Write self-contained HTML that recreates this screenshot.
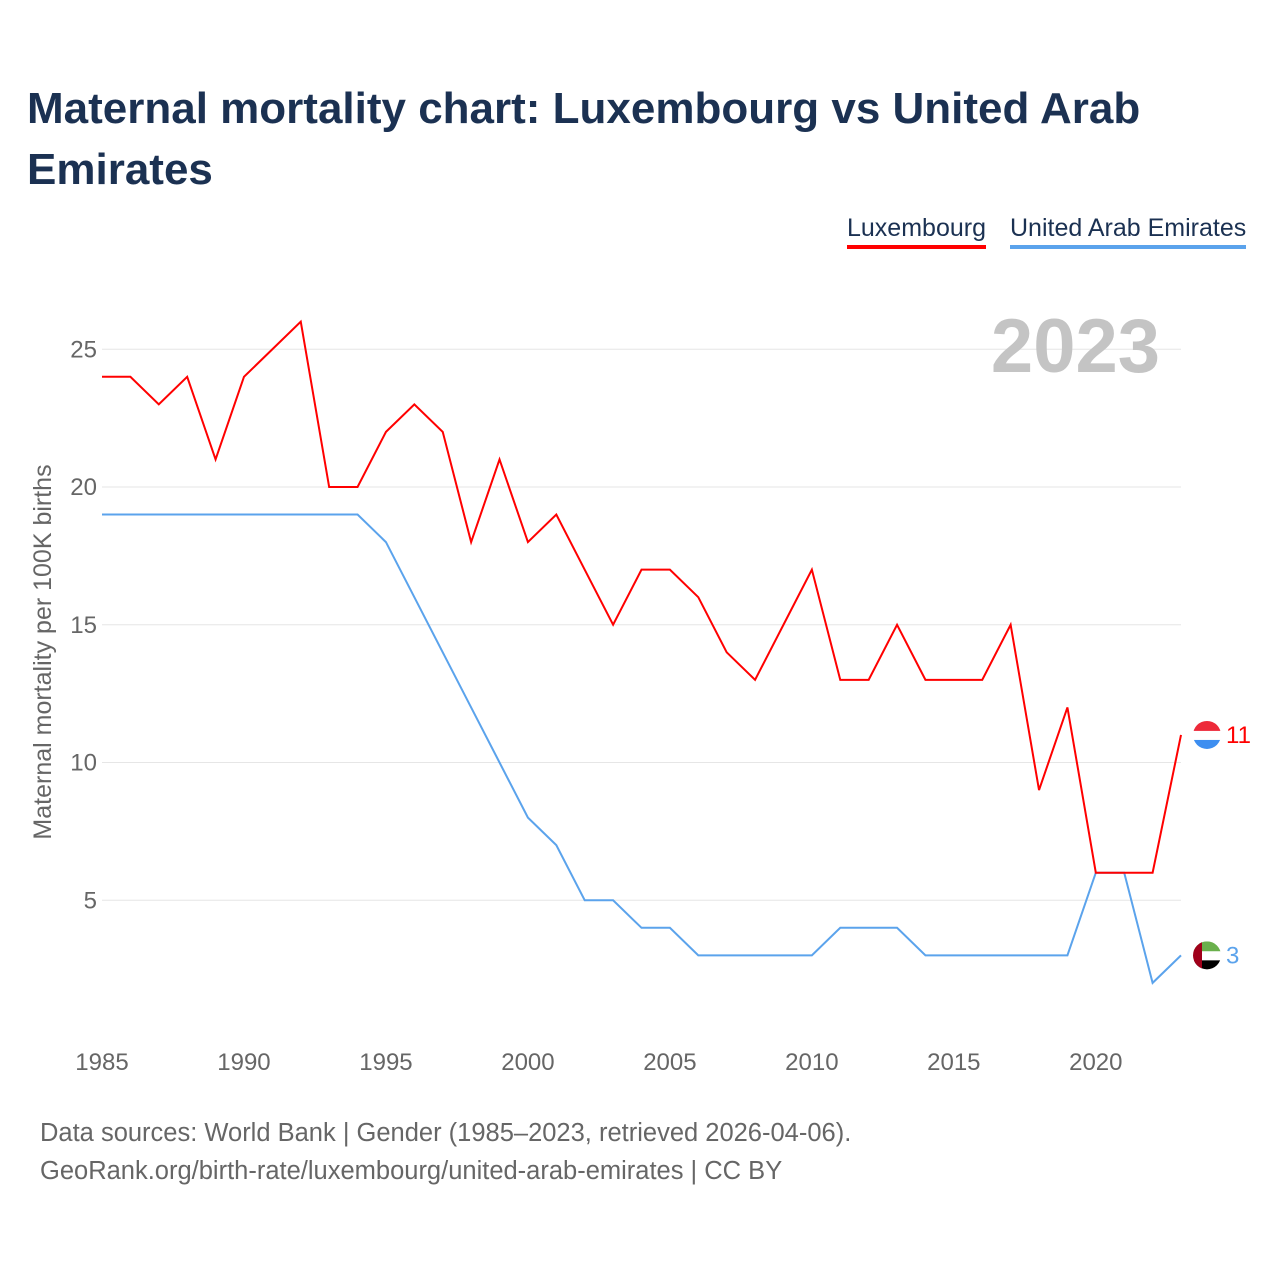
<!DOCTYPE html>
<html><head><meta charset="utf-8"><style>
body{margin:0;background:#fff;font-family:"Liberation Sans",sans-serif;}
#wrap{position:relative;width:1280px;height:1280px;overflow:hidden;}
h1{position:absolute;left:27px;top:78px;margin:0;font-size:44px;line-height:61px;color:#1b3152;font-weight:bold;width:1220px;}
.leg{position:absolute;top:214px;font-size:25px;color:#1b3152;padding-bottom:2px;}
.foot{position:absolute;left:40px;font-size:25.5px;color:#666;}
</style></head><body>
<div id="wrap">
<h1>Maternal mortality chart: Luxembourg vs United Arab Emirates</h1>
<div class="leg" style="left:847px;border-bottom:4px solid #ff0000">Luxembourg</div>
<div class="leg" style="left:1010px;border-bottom:4px solid #5ba3ec">United Arab Emirates</div>
<svg id="svg" width="1280" height="1280" style="position:absolute;left:0;top:0"></svg>
<div class="foot" style="top:1119px">Data sources: World Bank | Gender (1985–2023, retrieved 2026-04-06).</div>
<div class="foot" style="top:1157px">GeoRank.org/birth-rate/luxembourg/united-arab-emirates | CC BY</div>
</div>
<script>
const years=[];for(let y=1985;y<=2023;y++)years.push(y);
const luxValues=[24,24,23,24,21,24,25,26,20,20,22,23,22,18,21,18,19,17,15,17,17,16,14,13,15,17,13,13,15,13,13,13,15,9,12,6,6,6,11];
const uaeValues=[19,19,19,19,19,19,19,19,19,19,18,16,14,12,10,8,7,5,5,4,4,3,3,3,3,3,4,4,4,3,3,3,3,3,3,6,6,2,3];
const yTicks=[5,10,15,20,25];
const xTicks=[1985,1990,1995,2000,2005,2010,2015,2020];
const x=v=>102+(v-1985)*(1181-102)/38;
const y=v=>1038-v*27.55;
const svg=document.getElementById('svg');const NS='http://www.w3.org/2000/svg';
function mk(t,a,txt){const e=document.createElementNS(NS,t);for(const k in a)e.setAttribute(k,a[k]);if(txt!==undefined)e.textContent=txt;svg.appendChild(e);return e;}
yTicks.forEach(t=>{
 const g=mk('line',{x1:102,x2:1181,y1:y(t),y2:y(t),stroke:'#e6e6e6','stroke-width':1});
 
 
 const l=mk('text',{x:97,y:y(t)+8,'text-anchor':'end','font-size':24,fill:'#666','font-family':'Liberation Sans, sans-serif'},t);
 
 
});
xTicks.forEach(t=>{
 const l=mk('text',{x:x(t),y:1070,'text-anchor':'middle','font-size':24,fill:'#666','font-family':'Liberation Sans, sans-serif'},t);
 
 
});
const yt=mk('text',{x:0,y:0,transform:'translate(51,652) rotate(-90)','text-anchor':'middle','font-size':25,fill:'#666','font-family':'Liberation Sans, sans-serif'},'Maternal mortality per 100K births');


const yr=mk('text',{x:1160,y:372,'text-anchor':'end','font-size':76,'font-weight':'bold',fill:'#c4c4c4','font-family':'Liberation Sans, sans-serif'},'2023');


function line(vals,col,name){
 const p=mk('polyline',{points:vals.map((v,i)=>x(years[i])+','+y(v)).join(' '),fill:'none',stroke:col,'stroke-width':2});
 
 
}
line(uaeValues,'#5ba3ec','line-uae');
line(luxValues,'#ff0000','line-luxembourg');
const lv=luxValues[luxValues.length-1],uv=uaeValues[uaeValues.length-1];
const fx=1207;
const d=mk('defs',{});
d.innerHTML='<clipPath id="cl"><circle cx="'+fx+'" cy="'+y(lv)+'" r="14"/></clipPath><clipPath id="cu"><circle cx="'+fx+'" cy="'+y(uv)+'" r="14"/></clipPath>';
const fl=mk('g',{'clip-path':'url(#cl)'});


fl.innerHTML='<rect x="'+(fx-14)+'" y="'+(y(lv)-14)+'" width="28" height="10" fill="#ed2939"/><rect x="'+(fx-14)+'" y="'+(y(lv)-4)+'" width="28" height="9" fill="#fff"/><rect x="'+(fx-14)+'" y="'+(y(lv)+5)+'" width="28" height="10" fill="#3d8ef0"/>';
const fu=mk('g',{'clip-path':'url(#cu)'});


fu.innerHTML='<rect x="'+(fx-14)+'" y="'+(y(uv)-14)+'" width="28" height="10" fill="#6ab04c"/><rect x="'+(fx-14)+'" y="'+(y(uv)-4)+'" width="28" height="9" fill="#fff"/><rect x="'+(fx-14)+'" y="'+(y(uv)+5)+'" width="28" height="10" fill="#000"/><rect x="'+(fx-14)+'" y="'+(y(uv)-14)+'" width="9" height="28" fill="#a0001a"/>';
const a=mk('text',{x:1226,y:y(lv)+8,'font-size':24,fill:'#ff0000','font-family':'Liberation Sans, sans-serif'},lv);


const b=mk('text',{x:1226,y:y(uv)+8,'font-size':24,fill:'#5ba3ec','font-family':'Liberation Sans, sans-serif'},uv);


</script>
</body></html>
